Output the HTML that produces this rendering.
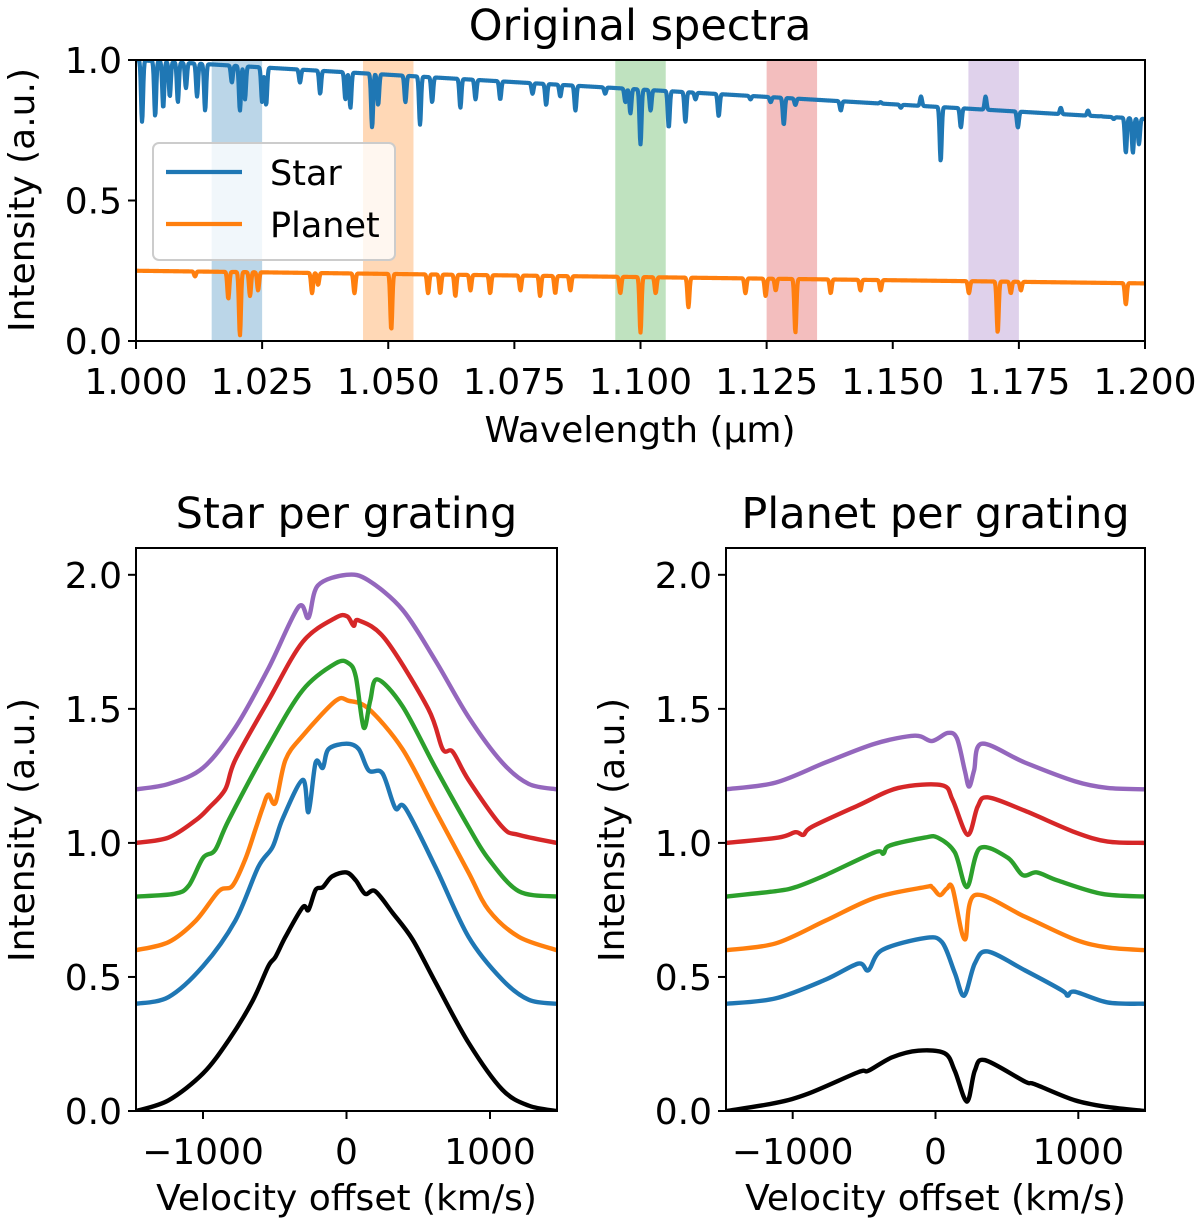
<!DOCTYPE html>
<html><head><meta charset="utf-8"><style>
html,body{margin:0;padding:0;background:#fff;}
svg{display:block;font-family:"DejaVu Sans","Liberation Sans",sans-serif;}
</style></head><body>
<svg id="fig" width="1200" height="1226" viewBox="0 0 1200 1226" xmlns="http://www.w3.org/2000/svg"></svg>
<script>
// ---------- Top chart data ----------
const bandStarts = [1.015, 1.045, 1.095, 1.125, 1.165];
const bandWidth = 0.010;
const starCont = [1.0, 0.79];
const planetCont = [0.25, 0.205];
const starLineW = [1.0012,1.0038,1.0054,1.0067,1.0083,1.0099,1.0121,1.0137,1.0190,1.0206,1.0216,1.0250,1.0258,1.0325,1.0365,1.0415,1.0425,1.0468,1.0480,1.0534,1.0563,1.0587,1.0643,1.0673,1.0722,1.0786,1.0813,1.0841,1.0871,1.0930,1.0970,1.0980,1.1000,1.1020,1.1056,1.1089,1.1109,1.1155,1.1218,1.1258,1.1284,1.1307,1.1397,1.1476,1.1516,1.1556,1.1595,1.1635,1.1684,1.1748,1.1833,1.1887,1.1913,1.1938,1.1962,1.1976,1.1988];
const starLineMin = [0.78,0.80,0.83,0.87,0.85,0.90,0.87,0.82,0.92,0.82,0.86,0.85,0.84,0.92,0.88,0.86,0.83,0.76,0.84,0.85,0.77,0.85,0.83,0.86,0.86,0.88,0.84,0.87,0.82,0.88,0.85,0.81,0.70,0.82,0.76,0.78,0.86,0.80,0.86,0.85,0.77,0.84,0.82,0.85,0.83,0.87,0.64,0.76,0.87,0.76,0.83,0.82,0.80,0.79,0.67,0.67,0.70];
const planetLineW = [1.0117,1.0183,1.0206,1.0226,1.0242,1.0349,1.0361,1.0433,1.0506,1.0579,1.0603,1.0633,1.0663,1.0702,1.0762,1.0801,1.0831,1.0861,1.0960,1.1000,1.1030,1.1095,1.1208,1.1248,1.1268,1.1307,1.1377,1.1436,1.1476,1.1651,1.1708,1.1734,1.1754,1.1962];
const planetLineMin = [0.23,0.15,0.02,0.16,0.18,0.17,0.20,0.17,0.04,0.17,0.17,0.16,0.18,0.17,0.18,0.16,0.17,0.18,0.17,0.03,0.17,0.12,0.17,0.16,0.18,0.03,0.17,0.18,0.18,0.17,0.03,0.17,0.18,0.13];
const topXTicks = ["1.000","1.025","1.050","1.075","1.100","1.125","1.150","1.175","1.200"];
const topYTicks = ["0.0","0.5","1.0"];

// ---------- Star per grating ----------
const sBlackV = [-1465,-1240,-1000,-820,-655,-545,-495,-425,-305,-265,-215,-165,-100,0,65,130,200,320,460,620,850,1085,1270,1465];
const sBlackY = [0.0,0.04,0.14,0.265,0.41,0.54,0.575,0.65,0.76,0.75,0.825,0.835,0.875,0.89,0.86,0.81,0.82,0.74,0.64,0.48,0.255,0.08,0.02,0.0];
const sBlueV = [-1465,-1240,-1000,-775,-615,-515,-445,-305,-265,-215,-165,-125,0,85,155,250,340,410,620,850,1085,1270,1465];
const sBlueY = [0.40,0.425,0.54,0.71,0.91,0.985,1.09,1.235,1.115,1.30,1.28,1.35,1.37,1.35,1.27,1.26,1.13,1.13,0.91,0.65,0.49,0.415,0.40];
const sOrangeV = [-1465,-1240,-1050,-890,-795,-705,-635,-585,-545,-495,-425,-305,-75,15,155,390,620,850,990,1200,1465];
const sOrangeY = [0.60,0.63,0.71,0.82,0.84,0.94,1.05,1.13,1.18,1.15,1.31,1.40,1.53,1.53,1.50,1.35,1.12,0.89,0.75,0.65,0.60];
const sGreenV = [-1465,-1200,-1100,-1000,-915,-820,-545,-305,-75,15,65,120,165,215,390,620,850,990,1200,1465];
const sGreenY = [0.80,0.81,0.84,0.944,0.974,1.086,1.36,1.57,1.67,1.67,1.62,1.43,1.53,1.61,1.51,1.28,1.06,0.94,0.82,0.80];
const sRedV = [-1465,-1240,-1050,-960,-845,-775,-545,-305,-75,5,50,85,270,570,670,740,850,1085,1200,1465];
const sRedY = [1.0,1.02,1.085,1.13,1.20,1.31,1.53,1.75,1.84,1.845,1.81,1.83,1.76,1.50,1.35,1.34,1.235,1.06,1.03,1.0];
const sPurpleV = [-1465,-1240,-1000,-775,-545,-335,-265,-200,0,150,390,620,850,1085,1270,1465];
const sPurpleY = [1.20,1.22,1.28,1.43,1.65,1.88,1.84,1.96,2.0,1.98,1.87,1.68,1.47,1.30,1.22,1.20];

// ---------- Planet per grating ----------
const pBlackV = [-1465,-1120,-890,-540,-470,-305,-120,65,135,220,275,345,625,695,975,1205,1465];
const pBlackY = [0.0,0.03,0.065,0.145,0.15,0.20,0.225,0.215,0.15,0.035,0.15,0.19,0.11,0.10,0.04,0.015,0.0];
const pBlueV = [-1465,-1120,-770,-540,-470,-375,-75,45,135,200,275,365,625,885,925,975,1205,1465];
const pBlueY = [0.40,0.42,0.49,0.55,0.525,0.60,0.645,0.63,0.515,0.43,0.55,0.595,0.525,0.45,0.43,0.445,0.405,0.40];
const pOrangeV = [-1465,-1120,-770,-425,-75,-25,30,80,120,205,275,625,975,1205,1465];
const pOrangeY = [0.60,0.625,0.71,0.795,0.835,0.835,0.805,0.83,0.83,0.64,0.805,0.725,0.64,0.61,0.60];
const pGreenV = [-1465,-1120,-980,-770,-425,-365,-320,-75,15,135,220,310,505,610,710,855,1165,1465];
const pGreenY = [0.80,0.82,0.835,0.88,0.965,0.96,0.99,1.02,1.02,0.965,0.835,0.98,0.945,0.88,0.89,0.86,0.81,0.80];
const pRedV = [-1465,-1100,-980,-925,-865,-540,-260,45,120,225,295,365,625,975,1205,1465];
const pRedY = [1.0,1.02,1.04,1.03,1.06,1.14,1.205,1.215,1.16,1.03,1.135,1.17,1.12,1.04,1.005,1.0];
const pPurpleV = [-1465,-1120,-770,-425,-145,-25,85,150,205,235,270,325,625,975,1205,1465];
const pPurpleY = [1.20,1.225,1.30,1.37,1.40,1.38,1.41,1.39,1.27,1.21,1.27,1.37,1.30,1.23,1.205,1.20];

const velTicks = [-1000, 0, 1000];
const velTickLabels = ["\u22121000","0","1000"];
const gratYTicks = ["0.0","0.5","1.0","1.5","2.0"];

const C = {blue:"#1f77b4",orange:"#ff7f0e",green:"#2ca02c",red:"#d62728",purple:"#9467bd",black:"#000000"};
const NS = "http://www.w3.org/2000/svg";
const svg = document.getElementById('fig');
const TICK = 36, LAB = 36, TITLE = 43;
function mk(tag, attrs, parent){
  const e = document.createElementNS(NS, tag);
  for (const k in attrs) e.setAttribute(k, attrs[k]);
  (parent||svg).appendChild(e);
  return e;
}
function txt(s, x, y, size, anchor, parent, rot){
  const t = mk('text', {x:x, y:y, 'font-size':size, 'text-anchor':anchor||'middle', fill:'#000'}, parent);
  if (rot) t.setAttribute('transform', `rotate(${rot} ${x} ${y})`);
  t.textContent = s;
  return t;
}

// ---------- Top chart ----------
const T = {l:136, r:1145, t:60, b:341, x0:1.0, x1:1.2, y0:0, y1:1};
const tx = w => T.l + (w - T.x0) / (T.x1 - T.x0) * (T.r - T.l);
const ty = v => T.b - (v - T.y0) / (T.y1 - T.y0) * (T.b - T.t);
const gTop = mk('g', {});


const cpTop = mk('clipPath', {id:'clipTop'}, gTop);
mk('rect', {x:T.l, y:T.t, width:T.r-T.l, height:T.b-T.t}, cpTop);
const bandColors = [C.blue,C.orange,C.green,C.red,C.purple];
bandStarts.forEach((b,i)=>{
  const r = mk('rect', {x:tx(b), y:T.t, width:tx(b+bandWidth)-tx(b), height:T.b-T.t, fill:bandColors[i], 'fill-opacity':0.3}, gTop);
  
  
});
function spectrum(cont, lw, lm){
  const pts = [];
  const s = 0.00028;
  for (let px = T.l; px <= T.r; px += 0.5){
    const w = T.x0 + (px - T.l)/(T.r-T.l)*(T.x1-T.x0);
    const c = cont[0] + (cont[1]-cont[0])*(w-T.x0)/(T.x1-T.x0);
    let v = c;
    for (let i=0;i<lw.length;i++){
      const d = (w - lw[i])/s;
      if (Math.abs(d) < 5){
        const cc = cont[0] + (cont[1]-cont[0])*(lw[i]-T.x0)/(T.x1-T.x0);
        v -= (cc - lm[i]) * Math.exp(-d*d);
      }
    }
    pts.push(px.toFixed(1)+','+ty(v).toFixed(2));
  }
  return pts.join(' ');
}
const starLine = mk('polyline', {points:spectrum(starCont, starLineW, starLineMin), fill:'none', stroke:C.blue, 'stroke-width':4.2, 'stroke-linejoin':'round', 'clip-path':'url(#clipTop)'}, gTop);


const planetLine = mk('polyline', {points:spectrum(planetCont, planetLineW, planetLineMin), fill:'none', stroke:C.orange, 'stroke-width':4.2, 'stroke-linejoin':'round', 'clip-path':'url(#clipTop)'}, gTop);


mk('rect', {x:T.l, y:T.t, width:T.r-T.l, height:T.b-T.t, fill:'none', stroke:'#000', 'stroke-width':2}, gTop);
topXTicks.forEach(s=>{
  const x = tx(parseFloat(s));
  mk('line', {x1:x, x2:x, y1:T.b, y2:T.b+8, stroke:'#000','stroke-width':2}, gTop);
  const t = txt(s, x, T.b+53, TICK, 'middle', gTop);
  
  
});
topYTicks.forEach(s=>{
  const y = ty(parseFloat(s));
  mk('line', {x1:T.l-8, x2:T.l, y1:y, y2:y, stroke:'#000','stroke-width':2}, gTop);
  const t = txt(s, T.l-14, y+13, TICK, 'end', gTop);
  
  
});
const tTitle = txt('Original spectra', 640, 40, TITLE, 'middle', gTop);


const tXl = txt('Wavelength (\u03bcm)', 640, 442, LAB, 'middle', gTop);


const tYl = txt('Intensity (a.u.)', 34, 200, LAB, 'middle', gTop, -90);


// legend
const leg = mk('g', {}, gTop);


mk('rect', {x:153, y:143, width:242, height:117, rx:6, fill:'#fff', 'fill-opacity':0.8, stroke:'#ccc', 'stroke-width':2}, leg);
const le1 = mk('line', {x1:166, x2:242, y1:172, y2:172, stroke:C.blue, 'stroke-width':4.2}, leg);


txt('Star', 270, 185, 35, 'start', leg);
const le2 = mk('line', {x1:166, x2:242, y1:224, y2:224, stroke:C.orange, 'stroke-width':4.2}, leg);


txt('Planet', 270, 237, 35, 'start', leg);

// ---------- Bottom panels ----------
function smoothPath(xs, ys){
  let d = `M${xs[0].toFixed(2)},${ys[0].toFixed(2)}`;
  const n = xs.length;
  for (let i=0;i<n-1;i++){
    const x0 = xs[Math.max(0,i-1)], y0 = ys[Math.max(0,i-1)];
    const x1 = xs[i], y1 = ys[i], x2 = xs[i+1], y2 = ys[i+1];
    const x3 = xs[Math.min(n-1,i+2)], y3 = ys[Math.min(n-1,i+2)];
    const k = 0.16;
    const c1x = x1 + (x2-x0)*k, c1y = y1 + (y2-y0)*k;
    const c2x = x2 - (x3-x1)*k, c2y = y2 - (y3-y1)*k;
    d += ` C${c1x.toFixed(2)},${c1y.toFixed(2)} ${c2x.toFixed(2)},${c2y.toFixed(2)} ${x2.toFixed(2)},${y2.toFixed(2)}`;
  }
  return d;
}
function panel(P, name, title, series){
  const g = mk('g', {});
  
  
  const px = v => P.l + (v - P.x0)/(P.x1-P.x0)*(P.r-P.l);
  const py = v => P.b - (v - P.y0)/(P.y1-P.y0)*(P.b-P.t);
  const cid = 'clip-'+name;
  const cp = mk('clipPath', {id:cid}, g);
  mk('rect', {x:P.l, y:P.t, width:P.r-P.l, height:P.b-P.t}, cp);
  series.forEach(s=>{
    const p = mk('path', {d:smoothPath(s.v.map(px), s.y.map(py)), fill:'none', stroke:s.c, 'stroke-width':4.4, 'stroke-linejoin':'round', 'clip-path':`url(#${cid})`}, g);
    
    
  });
  mk('rect', {x:P.l, y:P.t, width:P.r-P.l, height:P.b-P.t, fill:'none', stroke:'#000', 'stroke-width':2}, g);
  velTicks.forEach((v,i)=>{
    const x = px(v);
    mk('line', {x1:x, x2:x, y1:P.b, y2:P.b+8, stroke:'#000','stroke-width':2}, g);
    const t = txt(velTickLabels[i], x, P.b+53, TICK, 'middle', g);
    
    
  });
  gratYTicks.forEach(s=>{
    const y = py(parseFloat(s));
    mk('line', {x1:P.l-8, x2:P.l, y1:y, y2:y, stroke:'#000','stroke-width':2}, g);
    const t = txt(s, P.l-14, y+13, TICK, 'end', g);
    
    
  });
  const tt = txt(title, (P.l+P.r)/2, 528, TITLE, 'middle', g);
  
  
  const xl = txt('Velocity offset (km/s)', (P.l+P.r)/2, 1210, LAB, 'middle', g);
  
  
  const yl = txt('Intensity (a.u.)', P.l-102, 830, LAB, 'middle', g, -90);
  
  
}
panel({l:136, r:557, t:548, b:1111, x0:-1467, x1:1467, y0:0, y1:2.1}, 'star-per-grating-chart', 'Star per grating', [
  {v:sBlackV, y:sBlackY, c:C.black, n:'star-total-line'},
  {v:sBlueV, y:sBlueY, c:C.blue, n:'star-grating-1-line'},
  {v:sOrangeV, y:sOrangeY, c:C.orange, n:'star-grating-2-line'},
  {v:sGreenV, y:sGreenY, c:C.green, n:'star-grating-3-line'},
  {v:sRedV, y:sRedY, c:C.red, n:'star-grating-4-line'},
  {v:sPurpleV, y:sPurpleY, c:C.purple, n:'star-grating-5-line'}
]);
panel({l:726, r:1145, t:548, b:1111, x0:-1467, x1:1467, y0:0, y1:2.1}, 'planet-per-grating-chart', 'Planet per grating', [
  {v:pBlackV, y:pBlackY, c:C.black, n:'planet-total-line'},
  {v:pBlueV, y:pBlueY, c:C.blue, n:'planet-grating-1-line'},
  {v:pOrangeV, y:pOrangeY, c:C.orange, n:'planet-grating-2-line'},
  {v:pGreenV, y:pGreenY, c:C.green, n:'planet-grating-3-line'},
  {v:pRedV, y:pRedY, c:C.red, n:'planet-grating-4-line'},
  {v:pPurpleV, y:pPurpleY, c:C.purple, n:'planet-grating-5-line'}
]);
</script>
</body></html>
